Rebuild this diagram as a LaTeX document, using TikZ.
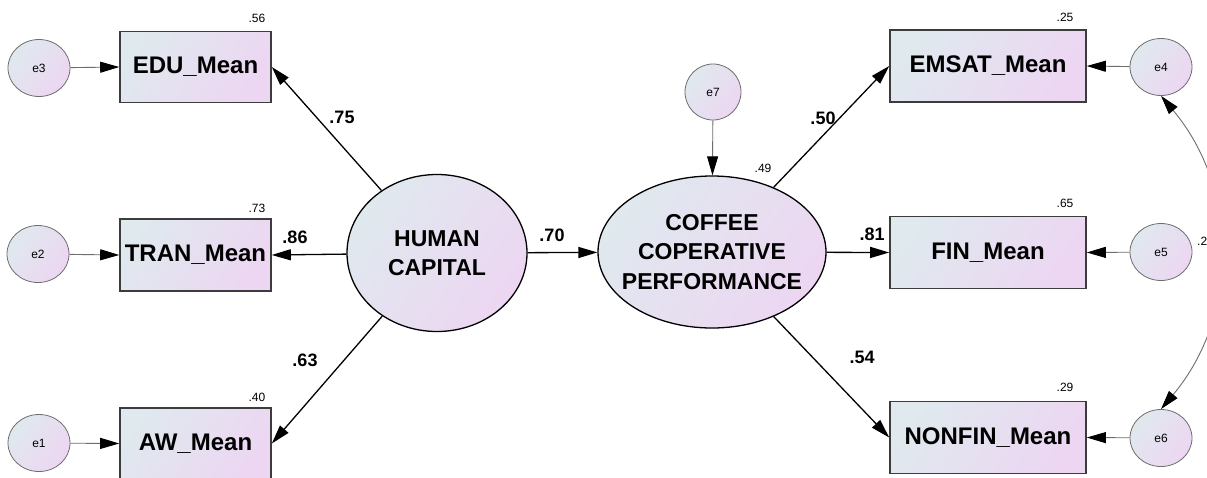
\documentclass[tikz,border=0pt]{standalone}
\usepackage{fontspec}
\setmainfont{Liberation Sans}
\usetikzlibrary{arrows.meta,shapes.geometric}
\definecolor{shadeleft}{RGB}{223,233,238}
\definecolor{shaderight}{RGB}{237,214,242}
\definecolor{framegray}{RGB}{60,60,60}
\definecolor{errgray}{RGB}{110,110,110}

\begin{document}
\begin{tikzpicture}[x=1pt,y=1pt,
  tint/.style={left color=shadeleft,right color=shaderight,shading angle=55},
  obsbox/.style={rectangle,draw=framegray,line width=1.6pt,tint,inner sep=0pt,font=\fontsize{24}{27}\selectfont\bfseries},
  latent/.style={ellipse,draw=black,line width=1.3pt,tint,inner sep=0pt,align=center,font=\fontsize{23}{29.5}\selectfont\bfseries},
  errnode/.style={ellipse,draw=errgray,line width=0.8pt,tint,inner sep=0pt,minimum width=62pt,minimum height=57pt,font=\fontsize{12}{14}\selectfont},
  tip/.tip={Triangle[length=19pt,width=11pt,fill=black,color=black]},
  path/.style={draw=black,line width=1.3pt,-tip},
  errpath/.style={draw=errgray,line width=0.9pt,-tip},
  coef/.style={font=\fontsize{18}{20}\selectfont\bfseries,inner sep=0pt},
  rsq/.style={font=\fontsize{12}{14}\selectfont,inner sep=0pt}]
\path[fill=white] (0,0) rectangle (1207,-477);
\useasboundingbox (0,0) rectangle (1207,-477);
\begin{scope}
\clip (0,0) rectangle (1207,-477);
% observed indicators
\node[obsbox,minimum width=151pt,minimum height=71pt] (obs-edu) at (195.5,-67) {EDU\_Mean};
\node[obsbox,minimum width=151pt,minimum height=72pt] (obs-tran) at (195.5,-255) {TRAN\_Mean};
\node[obsbox,minimum width=151pt,minimum height=71pt] (obs-aw) at (195.5,-443.5) {AW\_Mean};
\node[obsbox,minimum width=196pt,minimum height=72pt] (obs-emsat) at (988,-66) {EMSAT\_Mean};
\node[obsbox,minimum width=196pt,minimum height=72pt] (obs-fin) at (988,-252.5) {FIN\_Mean};
\node[obsbox,minimum width=196pt,minimum height=72pt] (obs-nonfin) at (988,-437.5) {NONFIN\_Mean};
% latent variables
\node[latent,minimum width=180pt,minimum height=157pt] (lat-hc) at (437,-253) {HUMAN\\CAPITAL};
\node[latent,inner xsep=-30pt,minimum width=228pt,minimum height=152pt] (lat-ccp) at (712,-252) {COFFEE\\COPERATIVE\\PERFORMANCE};
% error terms
\node[errnode] (err-e3) at (39,-68) {e3};
\node[errnode] (err-e2) at (38,-254) {e2};
\node[errnode] (err-e1) at (39,-443) {e1};
\node[errnode,minimum width=56pt,minimum height=56pt] (err-e7) at (713,-92) {e7};
\node[errnode] (err-e4) at (1161,-67) {e4};
\node[errnode] (err-e5) at (1161,-252) {e5};
\node[errnode] (err-e6) at (1161,-438) {e6};
% structural and measurement paths
\draw[path] (lat-hc) -- (obs-edu.east);
\draw[path] (lat-hc) -- (obs-tran.east);
\draw[path] (lat-hc) -- (obs-aw.east);
\draw[path] (lat-hc) -- (lat-ccp);
\draw[path] (lat-ccp) -- (obs-emsat.west);
\draw[path] (lat-ccp) -- (obs-fin.west);
\draw[path] (lat-ccp) -- (obs-nonfin.west);
\draw[errpath] (err-e3) -- (obs-edu.west);
\draw[errpath] (err-e2) -- (obs-tran.west);
\draw[errpath] (err-e1) -- (obs-aw.west);
\draw[errpath] (err-e7) -- (lat-ccp);
\draw[errpath] (err-e4) -- (obs-emsat.east);
\draw[errpath] (err-e5) -- (obs-fin.east);
\draw[errpath] (err-e6) -- (obs-nonfin.east);
\draw[errpath,tip-tip] (err-e4.south) to[out=-50,in=50] (err-e6.north);
\end{scope}
% coefficients
\node[coef] (coef-edu) at (342,-117) {.75};
\node[coef] (coef-tran) at (295,-237) {.86};
\node[coef] (coef-aw) at (305,-360) {.63};
\node[coef] (coef-hc) at (552,-235) {.70};
\node[coef] (coef-emsat) at (823,-118) {.50};
\node[coef] (coef-fin) at (872,-234) {.81};
\node[coef] (coef-nonfin) at (862,-357) {.54};
% squared multiple correlations
\node[rsq] (rsq-edu) at (257,-18) {.56};
\node[rsq] (rsq-tran) at (257,-208) {.73};
\node[rsq] (rsq-aw) at (257,-397) {.40};
\node[rsq] (rsq-ccp) at (763,-168) {.49};
\node[rsq] (rsq-emsat) at (1065,-17) {.25};
\node[rsq] (rsq-fin) at (1065,-203) {.65};
\node[rsq] (rsq-nonfin) at (1065,-387) {.29};
\node[rsq,anchor=west] (cov-e4e6) at (1197,-241) {.2};
\end{tikzpicture}
\end{document}
